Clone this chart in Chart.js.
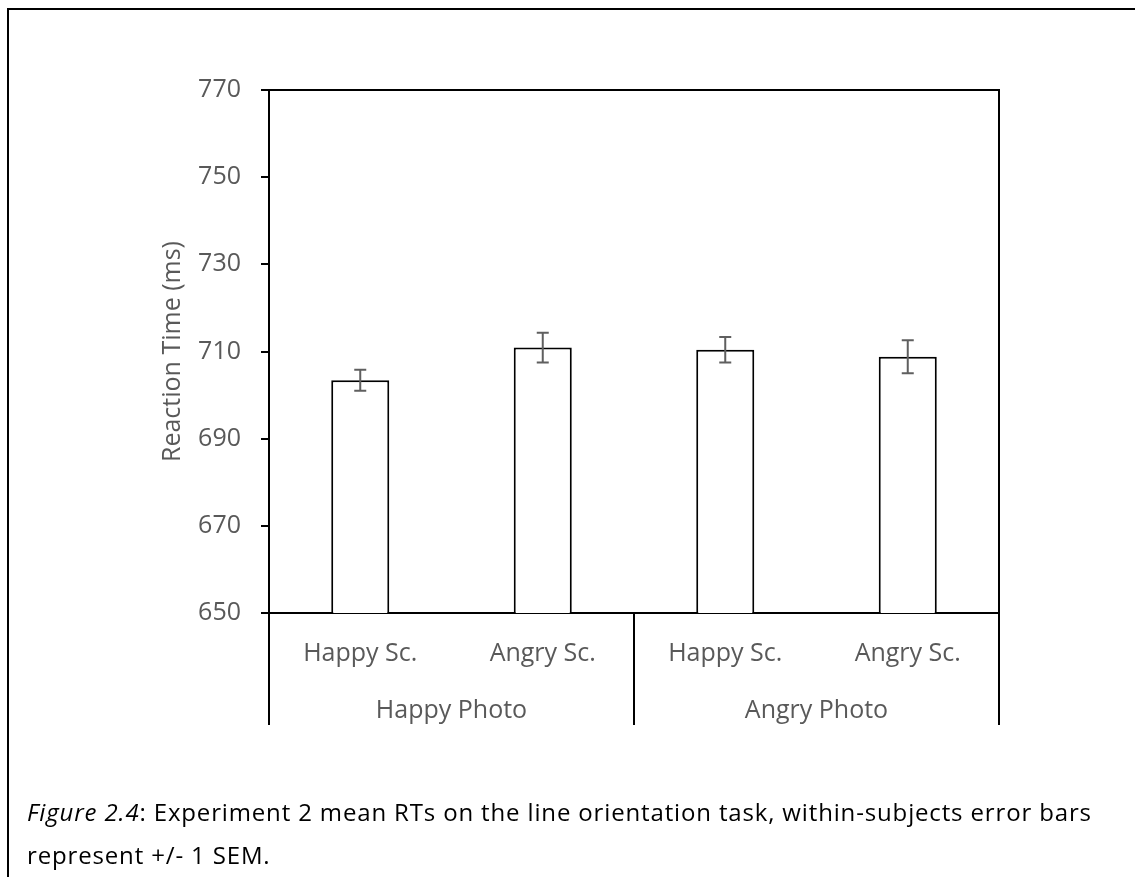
<!DOCTYPE html>
<html>
<head>
<meta charset="utf-8">
<script src="https://cdn.jsdelivr.net/npm/chart.js@4/dist/chart.umd.min.js"></script>
<style>
    html, body { margin: 0; padding: 0; background: #fff; }
    body { width: 1135px; height: 877px; position: relative; overflow: hidden; }
    #frame {
        position: absolute; left: 7px; top: 8px; width: 1200px; height: 900px;
        border-left: 2px solid #000; border-top: 2px solid #000;
    }
    #wrap { position: absolute; left: 0; top: 0; width: 1135px; height: 877px; }
    #caption {
        position: absolute; left: 27px; top: 790px;
        font-family: 'Open Sans', sans-serif; font-size: 24px; letter-spacing: 0.85px;
        line-height: 43px; color: #000; white-space: nowrap;
    }
</style>
</head>
<body>
<div id="frame"></div>
<div id="wrap"><canvas id="rtChart" width="1135" height="877"></canvas></div>
<div id="caption"><i>Figure 2.4</i>: Experiment 2 mean RTs on the line orientation task, within-subjects error bars<br>represent +/- 1 SEM.</div>
<script>
// Experiment 2 – line orientation task
const conditions = ['Happy Sc.', 'Angry Sc.', 'Happy Sc.', 'Angry Sc.'];
const photoGroups = ['Happy Photo', 'Angry Photo'];
const meanRT = [703.4, 710.9, 710.4, 708.8];
const semRT = [2.4, 3.4, 2.9, 3.8];
const yMin = 650;
const yMax = 770;
const yStep = 20;

const labelGrey = '#595959';
const labelFont = { family: 'Open Sans', size: 25 };

// Caixa do gráfico (topo e direita)
const plotBox = {
    id: 'plotBox',
    afterDraw(chart) {
        const { ctx, chartArea: a } = chart;
        ctx.save();
        ctx.strokeStyle = '#000';
        ctx.lineWidth = 2;
        ctx.beginPath();
        ctx.moveTo(a.left, a.top);
        ctx.lineTo(a.right, a.top);
        ctx.lineTo(a.right, a.bottom);
        ctx.stroke();
        ctx.restore();
    }
};

// Barras de erro (+/- 1 SEM)
const errorBars = {
    id: 'errorBars',
    afterDatasetsDraw(chart) {
        const { ctx } = chart;
        const y = chart.scales.y;
        const meta = chart.getDatasetMeta(0);
        ctx.save();
        ctx.strokeStyle = '#5f5f5f';
        ctx.lineWidth = 2;
        meta.data.forEach((bar, i) => {
            const top = y.getPixelForValue(meanRT[i] + semRT[i]);
            const bottom = y.getPixelForValue(meanRT[i] - semRT[i]);
            ctx.beginPath();
            ctx.moveTo(bar.x, top);
            ctx.lineTo(bar.x, bottom);
            ctx.moveTo(bar.x - 6, top);
            ctx.lineTo(bar.x + 6, top);
            ctx.moveTo(bar.x - 6, bottom);
            ctx.lineTo(bar.x + 6, bottom);
            ctx.stroke();
        });
        ctx.restore();
    }
};

// Separadores verticais entre os grupos de foto
const groupLines = {
    id: 'groupLines',
    afterDraw(chart) {
        const { ctx } = chart;
        const x = chart.scales.x;
        const x2 = chart.scales.x2;
        const half = (x2.getPixelForValue(1) - x2.getPixelForValue(0)) / 2;
        const edges = [x2.getPixelForValue(0) - half];
        photoGroups.forEach((g, i) => edges.push(x2.getPixelForValue(i) + half));
        ctx.save();
        ctx.strokeStyle = '#000';
        ctx.lineWidth = 2;
        edges.forEach(px => {
            ctx.beginPath();
            ctx.moveTo(px, x.top);
            ctx.lineTo(px, x2.bottom);
            ctx.stroke();
        });
        ctx.restore();
    }
};

const ctx = document.getElementById('rtChart').getContext('2d');
new Chart(ctx, {
    type: 'bar',
    data: {
        labels: conditions,
        datasets: [{
            data: meanRT,
            backgroundColor: '#ffffff',
            borderColor: '#000000',
            borderWidth: 2,
            borderSkipped: false,
            barPercentage: 0.318,
            categoryPercentage: 1
        }]
    },
    options: {
        responsive: false,
        animation: false,
        layout: { padding: { left: 150, top: 90, right: 136, bottom: 152 } },
        plugins: {
            legend: { display: false },
            tooltip: { enabled: false }
        },
        scales: {
            y: {
                min: yMin,
                max: yMax,
                afterFit(scale) { scale.width = 119; },
                ticks: { stepSize: yStep, color: labelGrey, font: labelFont, padding: 20 },
                grid: { drawOnChartArea: false, color: '#000', lineWidth: 2, tickLength: 8 },
                border: { color: '#000', width: 2 },
                title: {
                    display: true,
                    text: 'Reaction Time (ms)',
                    color: labelGrey,
                    font: labelFont,
                    padding: { top: 8, bottom: 0 }
                }
            },
            x: {
                weight: 0,
                afterFit(scale) { scale.height = 70; },
                ticks: { color: labelGrey, font: labelFont, padding: 18, maxRotation: 0 },
                grid: { display: false },
                border: { color: '#000', width: 2 }
            },
            x2: {
                type: 'category',
                position: 'bottom',
                labels: photoGroups,
                offset: true,
                weight: 1,
                afterFit(scale) { scale.height = 42; },
                ticks: { color: labelGrey, font: labelFont, padding: 5, maxRotation: 0 },
                grid: { display: false },
                border: { display: false }
            }
        }
    },
    plugins: [plotBox, errorBars, groupLines]
});
</script>
</body>
</html>
